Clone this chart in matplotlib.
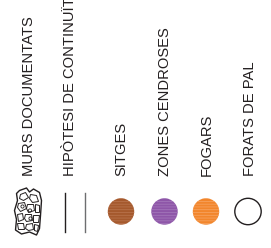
import matplotlib
matplotlib.use("Agg")
import matplotlib.pyplot as plt
from matplotlib.patches import Circle, Polygon

labels = ["MURS DOCUMENTATS", "HIPÒTESI DE CONTINUÏTAT", "SITGES",
          "ZONES CENDROSES", "FOGARS", "FORATS DE PAL"]
kinds = ["wall", "lines", "fill", "fill", "fill", "open"]
fill_colors = [None, None, "#a5592d", "#8e56a8", "#f2862c", "#ffffff"]
hatch_colors = [None, None, "#bb7750", "#a67bbd", "#f7a666", None]

# layout (pixels)
label_x = [29, 70, 121, 165, 207, 250]
symbol_x = [29, 75, 121, 164.5, 206, 248]
label_base = 176
symbol_y = 211.5
radius = 13.2

fig = plt.figure(figsize=(2.71, 2.48), dpi=100)
ax = fig.add_axes([0, 0, 1, 1])
ax.set_xlim(0, 271)
ax.set_ylim(248, 0)
ax.axis("off")
ax.set_aspect("auto")

txtc = "#231f20"
for lab, x in zip(labels, label_x):
    ax.text(x, label_base, lab, rotation=90, ha="center", va="bottom",
            fontsize=10.6, family="Liberation Sans", color=txtc)

def draw_wall(cx, cy):
    outer = [(-9, -21), (-2, -23.5), (1, -19.5), (5, -22.5), (11, -19),
             (13, -11), (12, 4), (11, 17), (8, 23.5), (1, 20.5), (-7, 22.5),
             (-13, 18.5), (-12, 8), (-14, -1), (-11, -11), (-12, -18)]
    ax.add_patch(Polygon([(cx + a, cy + b) for a, b in outer], closed=True,
                         fill=False, ec=txtc, lw=1.0, joinstyle="round"))
    stones = [
        [(-8, -17), (-3, -19), (0, -14), (-5, -11), (-9, -13)],
        [(2, -17), (8, -16), (10, -10), (4, -9), (1, -13)],
        [(-10, -8), (-4, -9), (-2, -3), (-8, 0), (-11, -4)],
        [(-1, -7), (5, -7), (6, -1), (0, 1), (-2, -3)],
        [(7, -7), (11, -6), (11, 1), (7, 1)],
        [(-11, 3), (-6, 2), (-5, 8), (-10, 10)],
        [(-3, 3), (3, 3), (4, 9), (-2, 10), (-4, 7)],
        [(5, 4), (11, 4), (10, 11), (5, 11)],
        [(-11, 12), (-5, 12), (-4, 18), (-10, 18)],
        [(-2, 13), (4, 12), (5, 18), (0, 19), (-3, 17)],
        [(6, 13), (10, 14), (9, 20), (6, 19)],
    ]
    for s in stones:
        ax.add_patch(Polygon([(cx + a, cy + b) for a, b in s], closed=True,
                             fill=False, ec=txtc, lw=0.7))
    for a, b in [(1.5, -1), (2, 7), (-6, -5)]:
        ax.add_patch(Circle((cx + a, cy + b), 1.6, fill=False, ec=txtc, lw=0.6))

plt.rcParams["hatch.linewidth"] = 0.5
for kind, x, fc, hc in zip(kinds, symbol_x, fill_colors, hatch_colors):
    if kind == "wall":
        draw_wall(x - 0.5, symbol_y)
    elif kind == "lines":
        ax.plot([x - 10, x - 10], [193, 232], color="#231f20", lw=1.0)
        ax.plot([x + 10, x + 10], [193, 232], color="#6d6e70", lw=1.0)
    elif kind == "fill":
        ax.add_patch(Circle((x, symbol_y), radius, fc=fc, ec="none"))
        ax.add_patch(Circle((x, symbol_y), radius, fc="none", ec=hc,
                            hatch="------", lw=0))
    else:
        ax.add_patch(Circle((x, symbol_y), radius, fc=fc, ec=txtc, lw=1.0))

fig.savefig("out.png", dpi=100)
